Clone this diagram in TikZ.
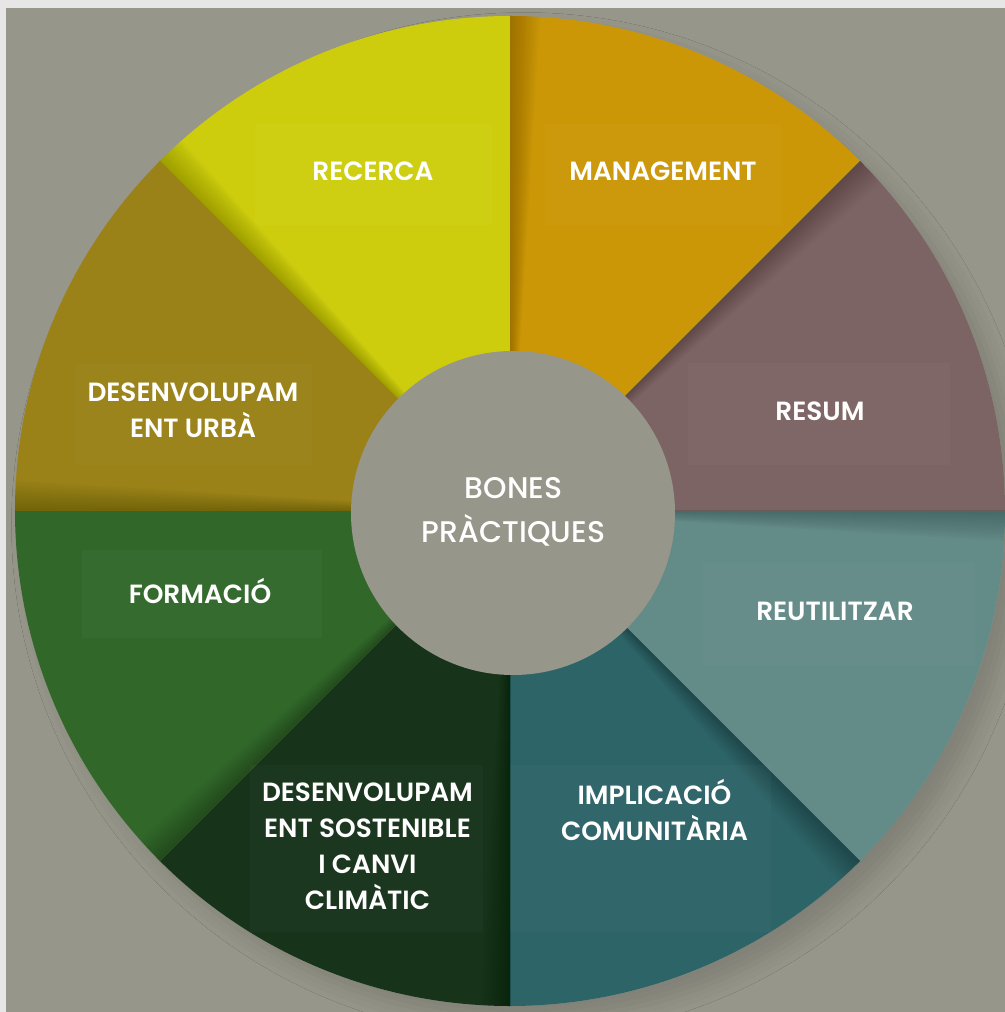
\documentclass[tikz,border=0pt]{standalone}
\usepackage{fontspec}
\setmainfont{Poppins}[BoldFont={* SemiBold}]
\newfontfamily\midfont{Poppins Medium}
\usetikzlibrary{shadows.blur}
\definecolor{rim}{HTML}{E6E6E6}
\definecolor{bg}{HTML}{96968A}
\definecolor{recerca}{HTML}{CDCD0E}
\definecolor{manag}{HTML}{CB9707}
\definecolor{resum}{HTML}{7C6464}
\definecolor{reutil}{HTML}{638B88}
\definecolor{implic}{HTML}{2D6467}
\definecolor{sosten}{HTML}{17331A}
\definecolor{formac}{HTML}{31682A}
\definecolor{urba}{HTML}{9A8218}

\begin{document}
\begin{tikzpicture}[lbl/.style={text=white,align=center,
    font=\bfseries\fontsize{15}{20.5}\selectfont},
  tag/.style={fill=white,fill opacity=0.022}]
  \useasboundingbox (-10.2,-10.02) rectangle (9.9,10.22);
  \fill[rim] (-10.2,-10.02) rectangle (9.9,10.22);
  \fill[bg] (-10.08,-10.02) rectangle (9.9,10.06);

  \fill[bg,blur shadow={shadow xshift=8pt,shadow yshift=-8pt,
    shadow blur radius=10pt,shadow opacity=14}] (0,0) circle (9.9);
  \foreach \a/\c in {90/recerca,45/manag,0/resum,-45/reutil,
    -90/implic,-135/sosten,180/formac,135/urba}
  {\fill[\c] (0,0) -- (\a:9.9) arc (\a:\a+45:9.9) -- cycle;
    \foreach \k in {1,...,14} \fill[black,opacity=0.016] (0,0)
    -- (\a+45-\k*0.25:9.9) arc (\a+45-\k*0.25:\a+45:9.9) -- cycle;}

  % text boxes
  \fill[tag] (-5.1,5.72) rectangle (-0.36,7.74);
  \fill[tag] (0.7,5.72) rectangle (5.44,7.74);
  \fill[tag] (-8.7,0.92) rectangle (-3.96,2.94);
  \fill[tag] (3.56,0.92) rectangle (8.8,2.96);
  \fill[tag] (3.86,-3.08) rectangle (9.3,-1.04);
  \fill[tag] (-8.56,-2.54) rectangle (-3.76,-0.78);
  \fill[tag] (-5.2,-8.42) rectangle (-0.54,-5.08);
  \fill[tag] (0,-8.42) rectangle (5.22,-5.08);

  \node[lbl] (rec) at (-2.74,6.79) {RECERCA};
  \node[lbl] (man) at (3.06,6.79) {MANAGEMENT};
  \node[lbl] (urb) at (-6.34,2.02) {DESENVOLUPAM\\ENT URBÀ};
  \node[lbl] (res) at (6.2,2.0) {RESUM};
  \node[lbl] (reu) at (6.5,-2.0) {REUTILITZAR};
  \node[lbl] (for) at (-6.2,-1.6) {FORMACIÓ};
  \node[lbl] (sos) at (-2.85,-6.71)
    {DESENVOLUPAM\\ENT SOSTENIBLE\\I CANVI\\CLIMÀTIC};
  \node[lbl] (imp) at (2.89,-5.98) {IMPLICACIÓ\\COMUNITÀRIA};

  \fill[bg] (0.06,-0.04) circle (3.24);
  \node[lbl,font=\midfont\fontsize{17}{25}\selectfont] (bp)
    at (0.07,-0.01) {BONES\\PRÀCTIQUES};
\end{tikzpicture}
\end{document}
